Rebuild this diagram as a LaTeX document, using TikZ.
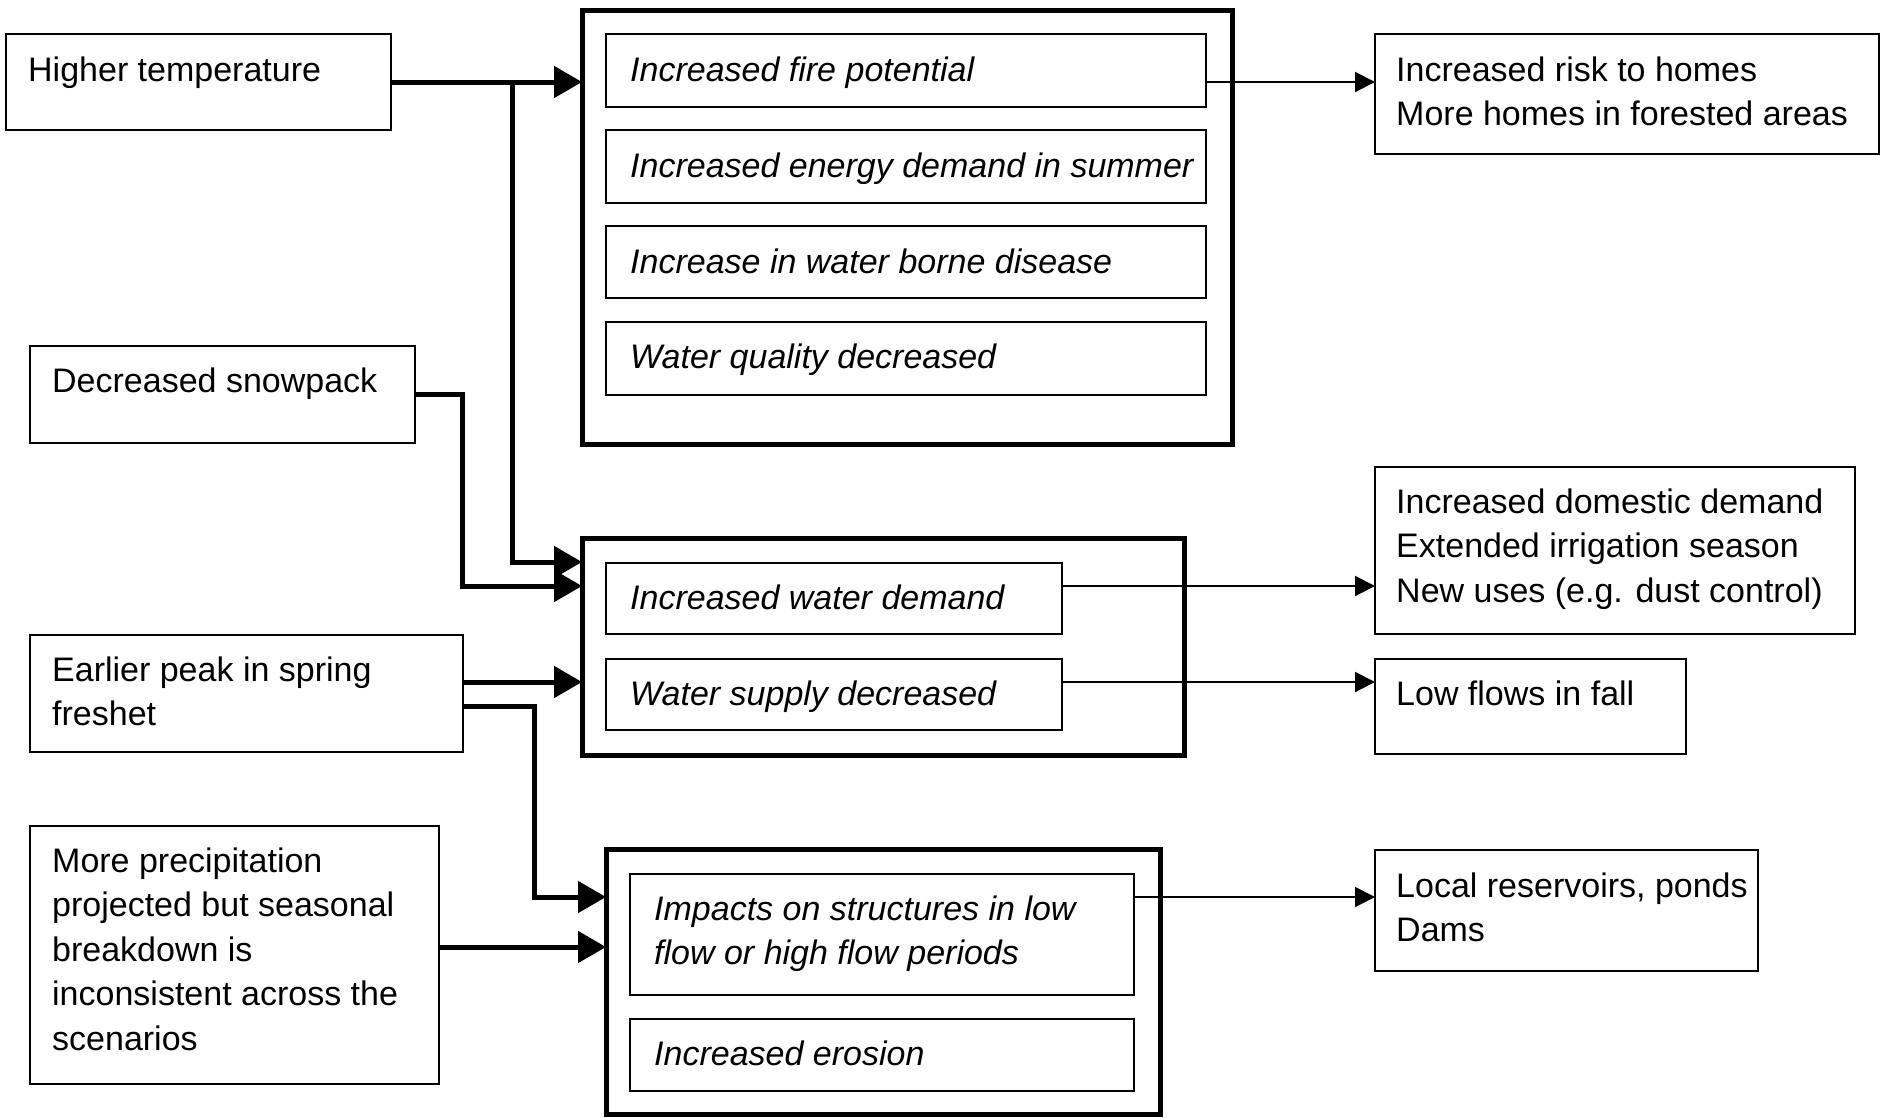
\documentclass[tikz,border=0pt]{standalone}
\usepackage{fontspec}
\setmainfont{Liberation Sans}
\usetikzlibrary{arrows.meta}
\begin{document}
\begin{tikzpicture}[x=1pt,y=-1pt,
  box/.style={draw, line width=2pt, inner sep=0pt, outer sep=0pt},
  bigbox/.style={draw, line width=5pt, inner sep=0pt, outer sep=0pt},
  txt/.style={anchor=base west, inner sep=0pt, align=left, font=\fontsize{34}{44.5}\selectfont},
  itxt/.style={txt, font=\fontsize{34}{44.5}\selectfont\itshape},
  fatarrow/.style={line width=5pt, line join=miter, -{Triangle[length=28pt,width=31pt]}},
  slimarrow/.style={line width=2pt, -{Triangle[length=20pt,width=20pt]}}
]
\useasboundingbox (0,0) rectangle (1886,1117);

% left column
\node[box, minimum width=385pt, minimum height=96pt] (ht) at (198.5,82) {};
\node[box, minimum width=385pt, minimum height=97pt] (ds) at (222.5,394.5) {};
\node[box, minimum width=433pt, minimum height=117pt] (ep) at (246.5,693.5) {};
\node[box, minimum width=409pt, minimum height=258pt] (mp) at (234.5,955) {};
% (multi-line texts are anchored at the baseline of their last line)
\node[txt] (tht) at (28,81) {Higher temperature};
\node[txt] (tds) at (52,392) {Decreased snowpack};
\node[txt] (tep) at (52,725.5) {Earlier peak in spring\\freshet};
\node[txt] (tmp) at (52,1050) {More precipitation\\projected but seasonal\\breakdown is\\inconsistent across the\\scenarios};

% middle group 1
\node[bigbox, minimum width=650pt, minimum height=434pt] (box1) at (907,227) {};
\node[box, minimum width=600pt, minimum height=73pt] (i1) at (906,70.5) {};
\node[box, minimum width=600pt, minimum height=73pt] (i2) at (906,166.5) {};
\node[box, minimum width=600pt, minimum height=72pt] (i3) at (906,262) {};
\node[box, minimum width=600pt, minimum height=73pt] (i4) at (906,358.5) {};
\node[itxt] (ti1) at (630,81) {Increased fire potential};
\node[itxt] (ti2) at (630,177) {Increased energy demand in summer};
\node[itxt] (ti3) at (630,273) {Increase in water borne disease};
\node[itxt] (ti4) at (630,368) {Water quality decreased};

% middle group 2
\node[bigbox, minimum width=602pt, minimum height=217pt] (box2) at (883,646.5) {};
\node[box, minimum width=456pt, minimum height=71pt] (j1) at (834,598.5) {};
\node[box, minimum width=456pt, minimum height=71pt] (j2) at (834,694.5) {};
\node[itxt] (tj1) at (630,609) {Increased water demand};
\node[itxt] (tj2) at (630,705) {Water supply decreased};

% middle group 3
\node[bigbox, minimum width=554pt, minimum height=265pt] (box3) at (883,981.5) {};
\node[box, minimum width=504pt, minimum height=121pt] (k1) at (882,934.5) {};
\node[box, minimum width=504pt, minimum height=72pt] (k2) at (882,1055) {};
\node[itxt] (tk1) at (654,964.5) {Impacts on structures in low\\flow or high flow periods};
\node[itxt] (tk2) at (654,1065) {Increased erosion};

% right column
\node[box, minimum width=504pt, minimum height=120pt] (r1) at (1627,94) {};
\node[box, minimum width=480pt, minimum height=167pt] (r2) at (1615,550.5) {};
\node[box, minimum width=311pt, minimum height=95pt] (r3) at (1530.5,706.5) {};
\node[box, minimum width=383pt, minimum height=121pt] (r4) at (1566.5,910.5) {};
\node[txt] (tr1) at (1396,125.5) {Increased risk to homes\\More homes in forested areas};
\node[txt] (tr2) at (1396,602) {Increased domestic demand\\Extended irrigation season\\New uses (e.g. dust control)};
\node[txt] (tr3) at (1396,705) {Low flows in fall};
\node[txt] (tr4) at (1396,941.5) {Local reservoirs, ponds\\Dams};

% helper coordinates
\coordinate (yA) at (0,82);
\coordinate (colA) at (512,562);
\coordinate (colB) at (462,586);
\coordinate (yC) at (0,682);
\coordinate (yD) at (0,706);
\coordinate (colD) at (534,897);
\coordinate (yE) at (0,947);
\coordinate (yF) at (0,586);

% thick connectors
\draw[fatarrow] (ht.east) -- (ht.east -| box1.west);
\draw[fatarrow] (ht.east -| colA) -- (colA) -- (colA -| box2.west);
\draw[fatarrow] (ds.east) -| (colB) -- (colB -| box2.west);
\draw[fatarrow] (ep.east |- yC) -- (yC -| box2.west);
\draw[fatarrow] (ep.east |- yD) -| (colD) -- (colD -| box3.west);
\draw[fatarrow] (mp.east |- yE) -- (yE -| box3.west);

% thin connectors
\draw[slimarrow] (i1.east |- yA) -- (yA -| r1.west);
\draw[slimarrow] (j1.east |- yF) -- (yF -| r2.west);
\draw[slimarrow] (j2.east |- yC) -- (yC -| r3.west);
\draw[slimarrow] (k1.east |- colD) -- (colD -| r4.west);
\end{tikzpicture}
\end{document}
